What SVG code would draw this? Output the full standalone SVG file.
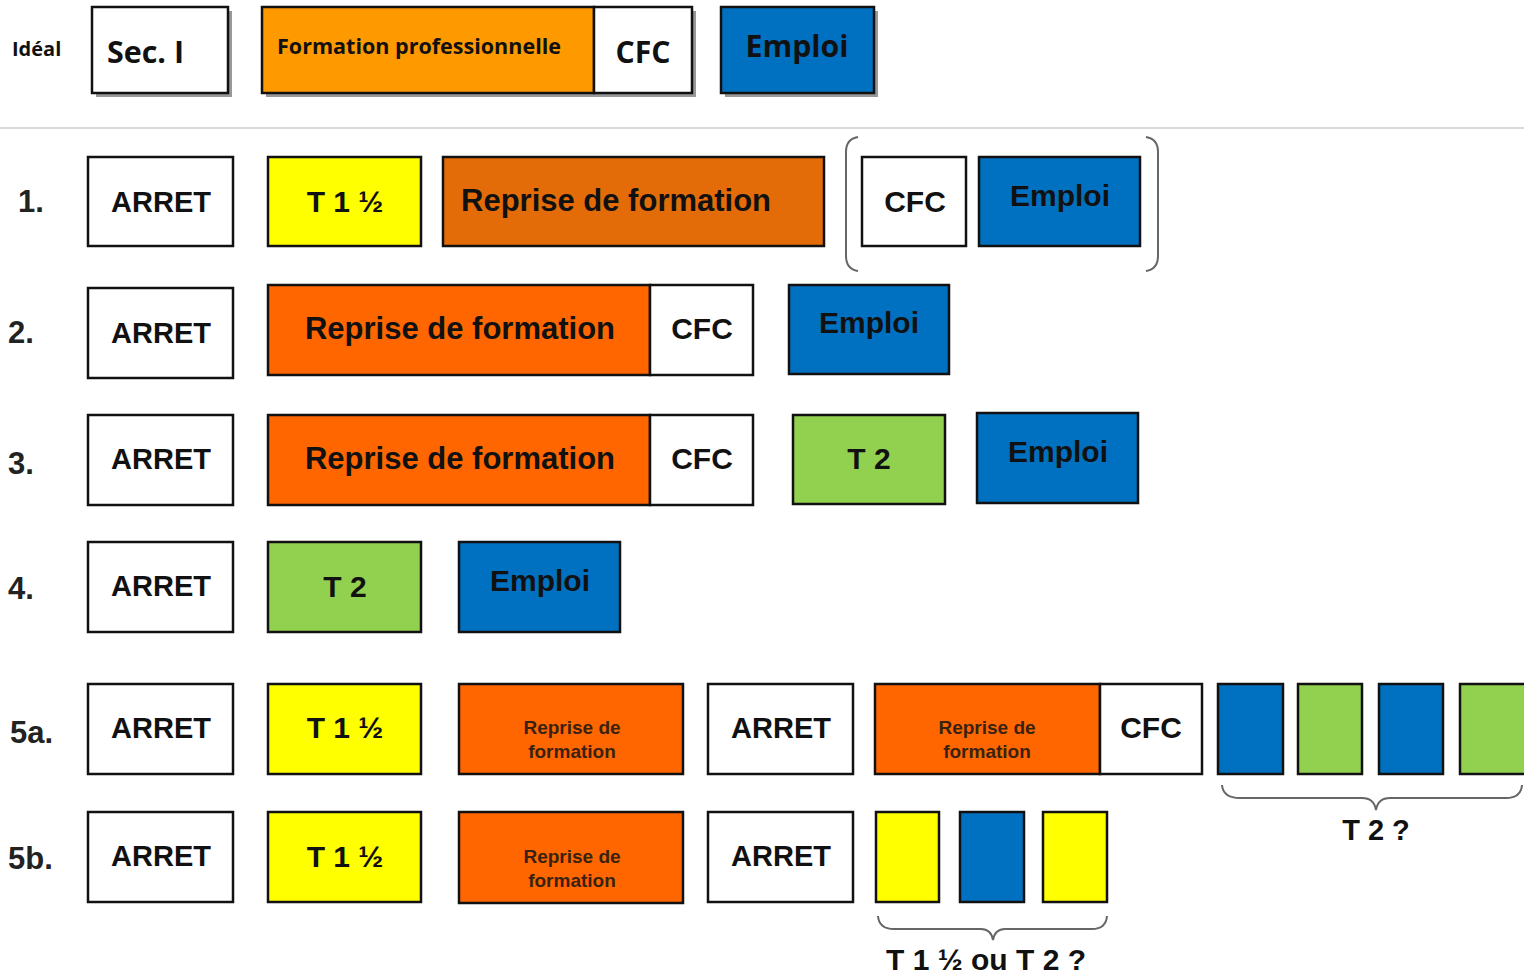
<svg xmlns="http://www.w3.org/2000/svg" width="1524" height="974" viewBox="0 0 1524 974">
<style>
.b{stroke:#111;stroke-width:2.5}
.w{fill:#fff}
.y{fill:#ffff00}
.o1{fill:#e36c09}
.o{fill:#ff6600}
.ot{fill:#ff9900}
.bl{fill:#0070c0}
.g{fill:#92d050}
.sh{fill:#999}
.t{font-family:"Liberation Sans",Arial,sans-serif;font-weight:bold;fill:#111;text-anchor:middle}
.ts{font-family:"Liberation Sans",Arial,sans-serif;font-weight:bold;fill:#111;text-anchor:start}
.c{font-family:"Open Sans","Noto Sans",sans-serif;font-weight:700;fill:#111}
.cm{font-family:"Open Sans","Noto Sans",sans-serif;font-weight:700;fill:#111;text-anchor:middle}
.lab{font-family:"Liberation Sans",Arial,sans-serif;font-weight:bold;font-size:31px;fill:#222}
.sm{font-family:"Liberation Sans",Arial,sans-serif;font-weight:bold;font-size:19px;fill:#3a2210;text-anchor:middle}
.br{fill:none;stroke:#666;stroke-width:2}
</style>

<g id="ideal">
<text class="c" x="12" y="56" font-size="20" font-weight="600">Idéal</text>
<rect class="sh" x="96" y="11" width="136" height="86"/>
<rect class="b w" x="92" y="7" width="136" height="86"/>
<text class="c" x="107" y="63" font-size="30" textLength="77" lengthAdjust="spacingAndGlyphs">Sec. I</text>
<rect class="sh" x="266" y="11" width="430" height="86"/>
<rect class="b ot" x="262" y="7" width="332" height="86"/>
<text class="c" x="277" y="54" font-size="21" textLength="284" lengthAdjust="spacingAndGlyphs">Formation professionnelle</text>
<rect class="b w" x="594" y="7" width="98" height="86"/>
<text class="cm" x="643" y="63" font-size="30" textLength="55" lengthAdjust="spacingAndGlyphs">CFC</text>
<rect class="sh" x="725" y="11" width="153" height="86"/>
<rect class="b bl" x="721" y="7" width="153" height="86"/>
<text class="cm" x="797" y="57" font-size="30" textLength="103" lengthAdjust="spacingAndGlyphs">Emploi</text>
</g>
<line x1="0" y1="128" x2="1524" y2="128" stroke="#ccc" stroke-width="1.5"/>

<g id="row1">
<text class="lab" x="18" y="212">1.</text>
<rect class="b w" x="88" y="157" width="145" height="89"/>
<text class="t" x="161" y="212" font-size="29">ARRET</text>
<rect class="b y" x="268" y="157" width="153" height="89"/>
<text class="t" x="345" y="212" font-size="30">T 1 ½</text>
<rect class="b o1" x="443" y="157" width="381" height="89"/>
<text class="ts" x="461" y="211" font-size="31">Reprise de formation</text>
<path class="br" d="M858 137 Q846 139 846 152 L846 256 Q846 269 858 271"/>
<path class="br" d="M1146 137 Q1158 139 1158 152 L1158 256 Q1158 269 1146 271"/>
<rect class="b w" x="862" y="157" width="104" height="89"/>
<text class="t" x="915" y="212" font-size="30">CFC</text>
<rect class="b bl" x="979" y="157" width="161" height="89"/>
<text class="t" x="1060" y="206" font-size="30">Emploi</text>
</g>

<g id="row2">
<text class="lab" x="8" y="343">2.</text>
<rect class="b w" x="88" y="288" width="145" height="90"/>
<text class="t" x="161" y="343" font-size="29">ARRET</text>
<rect class="b o" x="268" y="285" width="382" height="90"/>
<text class="t" x="460" y="339" font-size="31">Reprise de formation</text>
<rect class="b w" x="650" y="285" width="103" height="90"/>
<text class="t" x="702" y="339" font-size="30">CFC</text>
<rect class="b bl" x="789" y="285" width="160" height="89"/>
<text class="t" x="869" y="333" font-size="30">Emploi</text>
</g>

<g id="row3">
<text class="lab" x="8" y="474">3.</text>
<rect class="b w" x="88" y="415" width="145" height="90"/>
<text class="t" x="161" y="469" font-size="29">ARRET</text>
<rect class="b o" x="268" y="415" width="382" height="90"/>
<text class="t" x="460" y="469" font-size="31">Reprise de formation</text>
<rect class="b w" x="650" y="415" width="103" height="90"/>
<text class="t" x="702" y="469" font-size="30">CFC</text>
<rect class="b g" x="793" y="415" width="152" height="89"/>
<text class="t" x="869" y="469" font-size="30">T 2</text>
<rect class="b bl" x="977" y="413" width="161" height="90"/>
<text class="t" x="1058" y="462" font-size="30">Emploi</text>
</g>

<g id="row4">
<text class="lab" x="8" y="599">4.</text>
<rect class="b w" x="88" y="542" width="145" height="90"/>
<text class="t" x="161" y="596" font-size="29">ARRET</text>
<rect class="b g" x="268" y="542" width="153" height="90"/>
<text class="t" x="345" y="597" font-size="30">T 2</text>
<rect class="b bl" x="459" y="542" width="161" height="90"/>
<text class="t" x="540" y="591" font-size="30">Emploi</text>
</g>

<g id="row5a">
<text class="lab" x="10" y="743">5a.</text>
<rect class="b w" x="88" y="684" width="145" height="90"/>
<text class="t" x="161" y="738" font-size="29">ARRET</text>
<rect class="b y" x="268" y="684" width="153" height="90"/>
<text class="t" x="345" y="738" font-size="30">T 1 ½</text>
<rect class="b o" x="459" y="684" width="224" height="90"/>
<text class="sm" x="572" y="734">Reprise  de</text>
<text class="sm" x="572" y="758">formation</text>
<rect class="b w" x="708" y="684" width="145" height="90"/>
<text class="t" x="781" y="738" font-size="29">ARRET</text>
<rect class="b o" x="875" y="684" width="225" height="90"/>
<text class="sm" x="987" y="734">Reprise  de</text>
<text class="sm" x="987" y="758">formation</text>
<rect class="b w" x="1100" y="684" width="102" height="90"/>
<text class="t" x="1151" y="738" font-size="30">CFC</text>
<rect class="b bl" x="1218" y="684" width="65" height="90"/>
<rect class="b g" x="1298" y="684" width="64" height="90"/>
<rect class="b bl" x="1379" y="684" width="64" height="90"/>
<rect class="b g" x="1460" y="684" width="66" height="90"/>
<path class="br" d="M1222 785 Q1223 798 1240 798 L1362 798 Q1374 798 1376 810 Q1378 798 1390 798 L1506 798 Q1521 798 1522 785"/>
<text class="t" x="1376" y="840" font-size="29">T 2 ?</text>
</g>

<g id="row5b">
<text class="lab" x="8" y="869">5b.</text>
<rect class="b w" x="88" y="812" width="145" height="90"/>
<text class="t" x="161" y="866" font-size="29">ARRET</text>
<rect class="b y" x="268" y="812" width="153" height="90"/>
<text class="t" x="345" y="867" font-size="30">T 1 ½</text>
<rect class="b o" x="459" y="812" width="224" height="91"/>
<text class="sm" x="572" y="863">Reprise  de</text>
<text class="sm" x="572" y="887">formation</text>
<rect class="b w" x="708" y="812" width="145" height="90"/>
<text class="t" x="781" y="866" font-size="29">ARRET</text>
<rect class="b y" x="876" y="812" width="63" height="90"/>
<rect class="b bl" x="960" y="812" width="64" height="90"/>
<rect class="b y" x="1043" y="812" width="64" height="90"/>
<path class="br" d="M878 916 Q879 929 894 929 L981 929 Q991 929 993 940 Q995 929 1005 929 L1092 929 Q1106 929 1107 916"/>
<text class="t" x="986" y="970" font-size="30">T 1 ½ ou T 2 ?</text>
</g>
</svg>
